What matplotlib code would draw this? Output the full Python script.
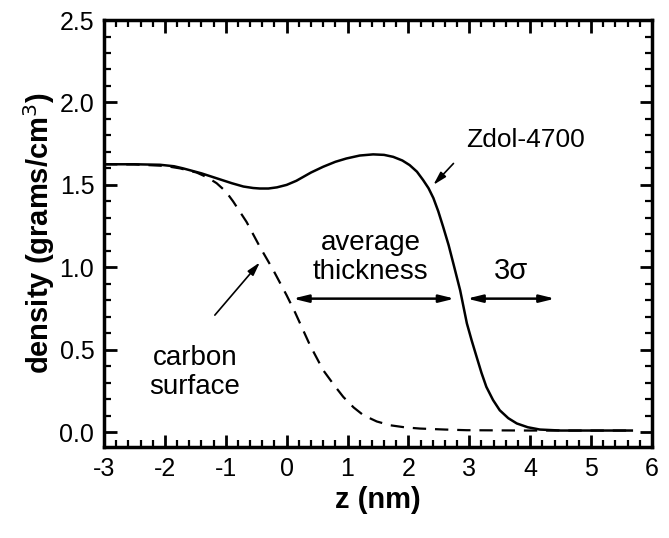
import matplotlib
matplotlib.use("Agg")
import matplotlib.pyplot as plt
from matplotlib.ticker import MultipleLocator

plt.rcParams['font.family'] = ['Liberation Sans', 'DejaVu Sans']

# Zdol-4700 density profile (solid)
z_zdol = [-3.0, -2.5, -2.08, -1.85, -1.70, -1.40, -1.15, -0.90, -0.71, -0.55, -0.44,
          -0.30, -0.16, 0.0, 0.16, 0.40, 0.60, 0.80, 0.98, 1.20, 1.42, 1.60, 1.75,
          1.90, 2.02, 2.14, 2.24, 2.33, 2.41, 2.49, 2.57, 2.66, 2.74, 2.85, 2.96,
          3.04, 3.12, 3.20, 3.28, 3.39, 3.50, 3.64, 3.78, 3.96, 4.16, 4.50, 5.69]
d_zdol = [1.625, 1.625, 1.622, 1.613, 1.600, 1.570, 1.540, 1.510, 1.490, 1.481, 1.478,
          1.478, 1.485, 1.500, 1.525, 1.575, 1.610, 1.640, 1.660, 1.678, 1.685, 1.682, 1.670,
          1.648, 1.620, 1.580, 1.530, 1.480, 1.420, 1.340, 1.246, 1.135, 1.020, 0.860, 0.660,
          0.555, 0.457, 0.360, 0.275, 0.195, 0.133, 0.085, 0.053, 0.030, 0.016, 0.010, 0.010]

# carbon surface density profile (dashed)
z_carbon = [-3.0, -2.5, -2.0, -1.75, -1.48, -1.30, -1.15, -1.00, -0.88, -0.66, -0.44,
            -0.22, 0.0, 0.14, 0.38, 0.60, 0.78, 0.93, 1.10, 1.26, 1.48, 1.70, 1.95,
            2.19, 2.60, 2.96, 4.0, 5.69]
d_carbon = [1.625, 1.624, 1.615, 1.600, 1.575, 1.545, 1.510, 1.460, 1.400, 1.276, 1.124,
            0.983, 0.830, 0.725, 0.530, 0.376, 0.285, 0.214, 0.150, 0.103, 0.065, 0.042, 0.029,
            0.022, 0.016, 0.012, 0.010, 0.010]

x_ticks = [-3, -2, -1, 0, 1, 2, 3, 4, 5, 6]
y_ticks = [0.0, 0.5, 1.0, 1.5, 2.0, 2.5]

fig = plt.figure(figsize=(6.69, 5.38), dpi=100)
ax = fig.add_axes([0.1555, 0.1691, 0.819, 0.7937])

ax.plot(z_zdol, d_zdol, color='black', lw=1.8, solid_capstyle='butt')
ax.plot(z_carbon, d_carbon, color='black', lw=1.6, linestyle=(0, (6, 4)))

ax.set_xlim(-3, 6)
ax.set_ylim(-0.09, 2.5)
ax.set_xticks(x_ticks)
ax.set_xticklabels([str(t) for t in x_ticks])
ax.set_yticks(y_ticks)
ax.set_yticklabels([f"{t:.1f}" for t in y_ticks])
ax.xaxis.set_minor_locator(MultipleLocator(0.2))
ax.yaxis.set_minor_locator(MultipleLocator(0.1))
ax.tick_params(which='both', direction='in', top=True, right=True, width=2)
ax.tick_params(which='major', length=9, labelsize=18, pad=7)
ax.tick_params(which='minor', length=5, width=1.6)
for s in ax.spines.values():
    s.set_linewidth(2.5)

ax.set_xlabel('z (nm)', fontsize=21, fontweight='bold', labelpad=4)
ax.set_ylabel('density (grams/cm$^3$)', fontsize=21, fontweight='bold', labelpad=2)

arrow_kw = dict(arrowstyle='<|-|>,head_length=0.9,head_width=0.22', color='black', lw=1.8,
                shrinkA=0, shrinkB=0)
ax.annotate('', xy=(2.76, 0.81), xytext=(0.10, 0.81), arrowprops=arrow_kw)
ax.annotate('', xy=(4.41, 0.81), xytext=(2.96, 0.81), arrowprops=arrow_kw)

one_kw = dict(arrowstyle='-|>,head_length=0.8,head_width=0.22', color='black', lw=1.2,
              shrinkA=0, shrinkB=0)
ax.annotate('', xy=(2.41, 1.50), xytext=(2.74, 1.63), arrowprops=one_kw)
ax.annotate('', xy=(-0.44, 1.03), xytext=(-1.18, 0.71), arrowprops=one_kw)

ax.text(3.93, 1.77, 'Zdol-4700', fontsize=19, ha='center', va='center')
ax.text(1.38, 1.06, 'average\nthickness', fontsize=20, ha='center', va='center',
        linespacing=1.15)
ax.text(3.68, 0.98, '3σ', fontsize=21, ha='center', va='center')
ax.text(-1.51, 0.36, 'carbon\nsurface', fontsize=20, ha='center', va='center',
        linespacing=1.15)

fig.savefig('out.png', dpi=100)
